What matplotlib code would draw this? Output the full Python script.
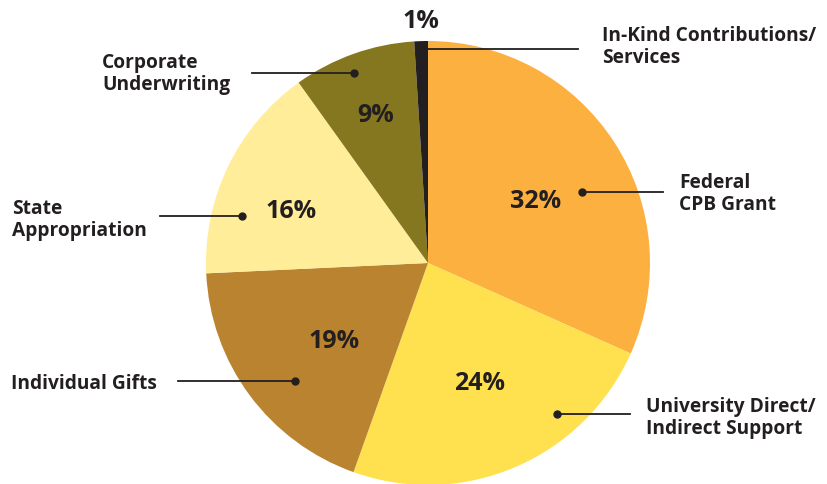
import matplotlib.pyplot as plt

# slices, clockwise from the top
categories = ["Federal\nCPB Grant", "University Direct/\nIndirect Support", "Individual Gifts",
              "State\nAppropriation", "Corporate\nUnderwriting", "In-Kind Contributions/\nServices"]
shares = [32, 24, 19, 16, 9, 1]
pct_labels = ["32%", "24%", "19%", "16%", "9%", "1%"]
colors = ["#FBB040", "#FFE14F", "#B9832F", "#FFED99", "#857620", "#231F20"]

W, H = 827, 485
text_color = "#231F20"
font = "Open Sans"


def py(y):
    # pixel row -> data y (y up)
    return H - y


fig = plt.figure(figsize=(W / 100, H / 100), dpi=100)
ax = fig.add_axes([0, 0, 1, 1])
ax.set_xlim(0, W)
ax.set_ylim(0, H)
ax.set_aspect("equal")
ax.axis("off")

ax.pie(shares, colors=colors, startangle=90, counterclock=False,
       center=(428, py(264)), radius=222, wedgeprops=dict(linewidth=0))
ax.set_xlim(0, W)
ax.set_ylim(0, H)

# percent labels inside / above slices
pct_pos = [(536, 201), (480, 384), (334, 342), (291, 211), (376, 115), (421, 21)]
for txt, (x, y) in zip(pct_labels, pct_pos):
    ax.text(x, py(y), txt, ha="center", va="center", fontsize=18, fontweight="bold",
            family=font, color=text_color)

# category labels with leader lines: (text x, text y, line x0, line x1, line y, dot x or None)
label_spec = [
    (679, 194, "left", 582, 663, 193, 582),
    (646, 418, "left", 557, 630, 415, 557),
    (11, 384, "left", 178, 295, 382, 295),
    (12, 220, "left", 160, 242, 217, 242),
    (102, 74, "left", 252, 354, 74, 354),
    (602, 47, "left", 428, 578, 50, None),
]
for name, (tx, ty, ha, x0, x1, ly, dot) in zip(categories, label_spec):
    ax.text(tx, py(ty), name, ha=ha, va="center", fontsize=13.8, fontweight="bold",
            family=font, color=text_color, linespacing=1.12)
    ax.plot([x0, x1], [py(ly), py(ly)], color=text_color, linewidth=1.3)
    if dot is not None:
        ax.plot(dot, py(ly), "o", color=text_color, markersize=5)

fig.savefig("out.png", dpi=100)
